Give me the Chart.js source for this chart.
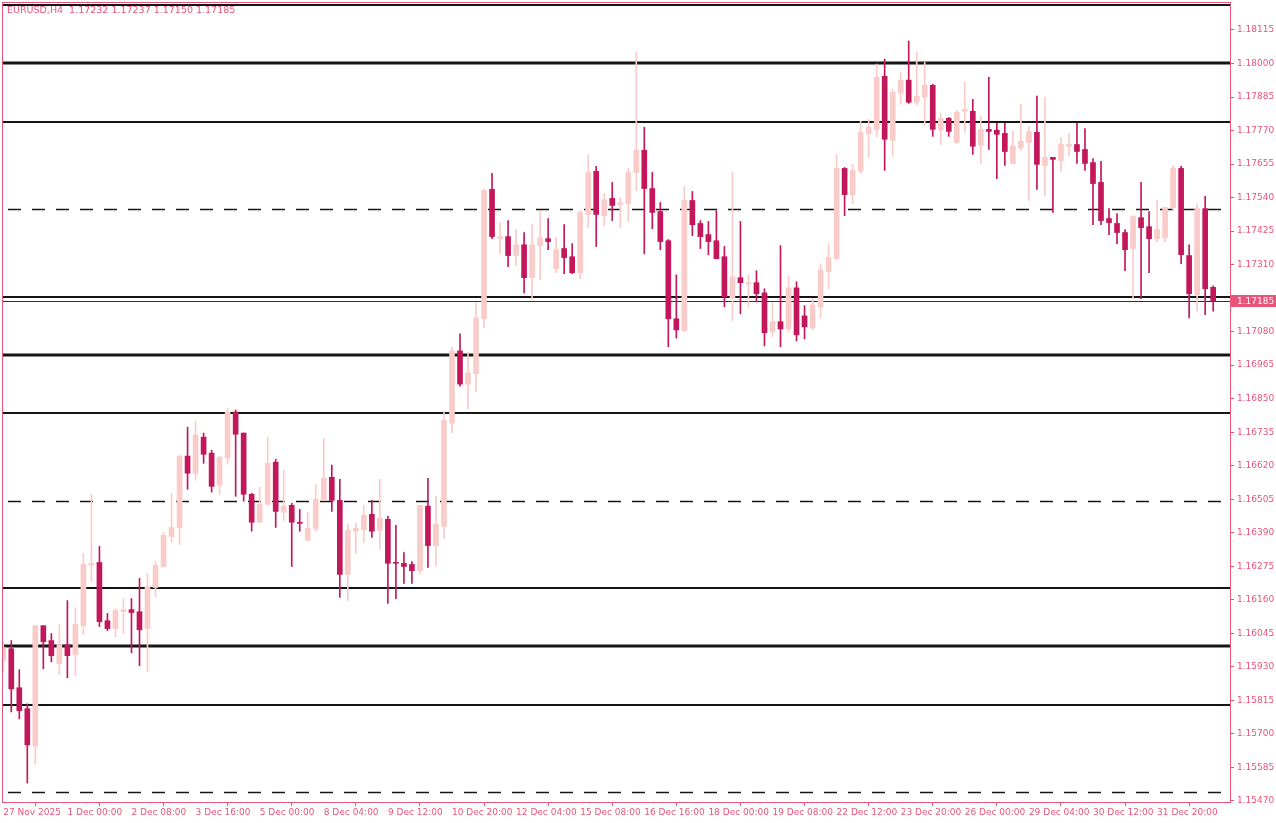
<!DOCTYPE html>
<html><head><meta charset="utf-8">
<script src="https://cdn.jsdelivr.net/npm/chart.js@4.4.1/dist/chart.umd.min.js"></script>
<style>html,body{margin:0;padding:0;background:#fff;}#wrap{width:1276px;height:823px;position:relative;}</style>
</head><body><div id="wrap"><canvas id="c" width="1276" height="823"></canvas></div>
<script>
const symbolTitle = "EURUSD,H4  1.17232 1.17237 1.17150 1.17185";
const opens = [1.15951,1.15992,1.15858,1.15786,1.15658,1.16071,1.16020,1.15941,1.16006,1.15971,1.16071,1.16278,1.16288,1.16088,1.16061,1.16119,1.16126,1.16119,1.16061,1.16202,1.16274,1.16377,1.16408,1.16653,1.16594,1.16718,1.16663,1.16553,1.16646,1.16804,1.16732,1.16522,1.16426,1.16487,1.16632,1.16460,1.16484,1.16426,1.16364,1.16405,1.16501,1.16580,1.16501,1.16247,1.16395,1.16401,1.16453,1.16398,1.16436,1.16288,1.16285,1.16281,1.16260,1.16481,1.16346,1.16412,1.16766,1.17014,1.16900,1.16935,1.17124,1.17568,1.17399,1.17406,1.17341,1.17378,1.17265,1.17375,1.17399,1.17296,1.17365,1.17337,1.17282,1.17482,1.17630,1.17478,1.17537,1.17516,1.17519,1.17626,1.17702,1.17571,1.17492,1.17392,1.17124,1.17083,1.17530,1.17451,1.17413,1.17392,1.17337,1.17196,1.17265,1.17244,1.17248,1.17213,1.17079,1.17114,1.17089,1.17230,1.17134,1.17093,1.17165,1.17286,1.17330,1.17640,1.17550,1.17630,1.17760,1.17774,1.17956,1.17736,1.17898,1.17943,1.17867,1.17884,1.17925,1.17771,1.17812,1.17729,1.17836,1.17836,1.17719,1.17774,1.17771,1.17760,1.17657,1.17712,1.17729,1.17764,1.17650,1.17678,1.17667,1.17716,1.17722,1.17705,1.17660,1.17592,1.17468,1.17451,1.17420,1.17365,1.17471,1.17440,1.17399,1.17402,1.17506,1.17640,1.17341,1.17206,1.17502,1.17232];
const highs = [1.16013,1.16020,1.15920,1.15803,1.16071,1.16071,1.16044,1.16075,1.16157,1.16133,1.16319,1.16522,1.16343,1.16113,1.16130,1.16164,1.16164,1.16233,1.16250,1.16291,1.16391,1.16525,1.16656,1.16752,1.16773,1.16732,1.16673,1.16653,1.16818,1.16811,1.16732,1.16525,1.16546,1.16718,1.16642,1.16604,1.16491,1.16470,1.16460,1.16556,1.16714,1.16622,1.16573,1.16419,1.16422,1.16484,1.16501,1.16573,1.16446,1.16415,1.16322,1.16291,1.16484,1.16577,1.16515,1.16807,1.17028,1.17072,1.17010,1.17179,1.17571,1.17623,1.17454,1.17461,1.17430,1.17420,1.17447,1.17495,1.17468,1.17402,1.17447,1.17382,1.17495,1.17688,1.17647,1.17554,1.17592,1.17540,1.17640,1.18039,1.17781,1.17626,1.17523,1.17396,1.17275,1.17578,1.17561,1.17461,1.17458,1.17495,1.17372,1.17626,1.17458,1.17275,1.17289,1.17227,1.17179,1.17375,1.17272,1.17251,1.17169,1.17193,1.17313,1.17382,1.17688,1.17643,1.17654,1.17802,1.17808,1.17998,1.18015,1.17912,1.17970,1.18077,1.18039,1.18005,1.17929,1.17829,1.17815,1.17839,1.17936,1.17877,1.17819,1.17953,1.17795,1.17795,1.17767,1.17860,1.17784,1.17888,1.17884,1.17678,1.17747,1.17760,1.17795,1.17777,1.17674,1.17664,1.17502,1.17485,1.17430,1.17478,1.17592,1.17492,1.17530,1.17506,1.17650,1.17647,1.17378,1.17519,1.17544,1.17237];
const lows = [1.15916,1.15775,1.15751,1.15531,1.15596,1.15923,1.15947,1.15903,1.15892,1.15899,1.16040,1.16223,1.16068,1.16054,1.16033,1.16044,1.15978,1.15934,1.15913,1.16171,1.16271,1.16357,1.16350,1.16539,1.16570,1.16628,1.16529,1.16522,1.16625,1.16515,1.16498,1.16395,1.16426,1.16484,1.16408,1.16432,1.16274,1.16395,1.16364,1.16395,1.16501,1.16463,1.16168,1.16157,1.16319,1.16357,1.16374,1.16333,1.16147,1.16164,1.16216,1.16216,1.16250,1.16271,1.16274,1.16370,1.16732,1.16893,1.16814,1.16873,1.17093,1.17399,1.17347,1.17303,1.17306,1.17213,1.17193,1.17258,1.17361,1.17282,1.17279,1.17279,1.17261,1.17437,1.17372,1.17444,1.17461,1.17437,1.17458,1.17564,1.17347,1.17433,1.17361,1.17028,1.17058,1.17079,1.17409,1.17365,1.17344,1.17330,1.17165,1.17117,1.17141,1.17165,1.17182,1.17031,1.17062,1.17028,1.17079,1.17048,1.17055,1.17086,1.17127,1.17227,1.17327,1.17478,1.17519,1.17623,1.17678,1.17747,1.17633,1.17681,1.17860,1.17863,1.17857,1.17788,1.17750,1.17722,1.17750,1.17726,1.17764,1.17688,1.17657,1.17705,1.17605,1.17650,1.17657,1.17702,1.17530,1.17568,1.17547,1.17489,1.17630,1.17685,1.17657,1.17633,1.17447,1.17447,1.17413,1.17382,1.17289,1.17193,1.17193,1.17282,1.17389,1.17389,1.17495,1.17313,1.17127,1.17151,1.17138,1.17150];
const closes = [1.15995,1.15854,1.15779,1.15662,1.16071,1.16016,1.15968,1.16006,1.15968,1.16075,1.16281,1.16285,1.16085,1.16061,1.16123,1.16126,1.16116,1.16057,1.16205,1.16278,1.16381,1.16408,1.16653,1.16594,1.16725,1.16659,1.16549,1.16649,1.16804,1.16728,1.16522,1.16426,1.16487,1.16628,1.16463,1.16481,1.16426,1.16422,1.16405,1.16505,1.16577,1.16501,1.16247,1.16398,1.16405,1.16450,1.16395,1.16439,1.16285,1.16285,1.16274,1.16260,1.16484,1.16346,1.16419,1.16776,1.17014,1.16900,1.16938,1.17127,1.17564,1.17406,1.17406,1.17341,1.17378,1.17265,1.17378,1.17402,1.17389,1.17361,1.17334,1.17282,1.17489,1.17626,1.17482,1.17533,1.17513,1.17523,1.17626,1.17702,1.17571,1.17489,1.17389,1.17124,1.17086,1.17530,1.17447,1.17406,1.17389,1.17330,1.17200,1.17268,1.17248,1.17248,1.17210,1.17076,1.17114,1.17089,1.17230,1.17069,1.17096,1.17172,1.17292,1.17334,1.17640,1.17550,1.17633,1.17764,1.17781,1.17953,1.17740,1.17901,1.17943,1.17867,1.17888,1.17925,1.17774,1.17812,1.17767,1.17833,1.17843,1.17716,1.17774,1.17767,1.17757,1.17698,1.17716,1.17733,1.17767,1.17654,1.17678,1.17671,1.17722,1.17722,1.17698,1.17657,1.17588,1.17461,1.17454,1.17420,1.17361,1.17475,1.17437,1.17399,1.17430,1.17506,1.17640,1.17344,1.17210,1.17502,1.17227,1.17185];
const timeLabels = ["27 Nov 2025","1 Dec 00:00","2 Dec 08:00","3 Dec 16:00","5 Dec 00:00","8 Dec 04:00","9 Dec 12:00","10 Dec 20:00","12 Dec 04:00","15 Dec 08:00","16 Dec 16:00","18 Dec 00:00","19 Dec 08:00","22 Dec 12:00","23 Dec 20:00","26 Dec 00:00","29 Dec 04:00","30 Dec 12:00","31 Dec 20:00"];
const labelEvery = 8;
const priceTickStart = 1.15470, priceTickStep = 0.00115, priceTickCount = 24;
const solidLevels = [1.1820,1.1800,1.1780,1.1720,1.1700,1.1680,1.1620,1.1600,1.1580];
const heavyLevels = [1.1800,1.1700,1.1600];
const dashedLevels = [1.1750,1.1650,1.1550];
const lastPrice = 1.17185;

const PINK = '#e8557a', DARK = '#c2185b', LIGHT = '#f9cbc9';
const idx = opens.map((_, i) => i);
const up = idx.map(i => closes[i] >= opens[i]);
const wickData = idx.map(i => ({x: i, y: [lows[i], highs[i]]}));
const bodyData = idx.map(i => ({x: i, y: [opens[i], closes[i]]}));
const colors = up.map(u => u ? LIGHT : DARK);

const FONT = {family: 'DejaVu Sans', size: 9};

const levelsPlugin = {
  id: 'levels',
  beforeDatasetsDraw(chart) {
    const {ctx, chartArea: a, scales: {y}} = chart;
    ctx.save();
    ctx.beginPath(); ctx.rect(a.left, a.top, a.right - a.left, a.bottom - a.top); ctx.clip();
    ctx.strokeStyle = '#151515';
    solidLevels.forEach(v => {
      const py = Math.round(y.getPixelForValue(v));
      ctx.lineWidth = heavyLevels.includes(v) ? 3 : 2;
      ctx.setLineDash([]);
      ctx.beginPath(); ctx.moveTo(a.left, py); ctx.lineTo(a.right, py); ctx.stroke();
    });
    ctx.lineWidth = 1.3; ctx.setLineDash([13, 11]);
    dashedLevels.forEach(v => {
      const py = Math.round(y.getPixelForValue(v)) + 0.5;
      ctx.beginPath(); ctx.moveTo(a.left + 6, py); ctx.lineTo(a.right, py); ctx.stroke();
    });
    ctx.setLineDash([]); ctx.lineWidth = 1; ctx.strokeStyle = '#3a2e28';
    const pl = Math.round(y.getPixelForValue(lastPrice)) + 0.5;
    ctx.beginPath(); ctx.moveTo(a.left, pl); ctx.lineTo(a.right, pl); ctx.stroke();
    ctx.restore();
  },
  afterDraw(chart) {
    const {ctx, chartArea: a, scales: {y}} = chart;
    ctx.save();
    ctx.strokeStyle = PINK; ctx.lineWidth = 1;
    ctx.strokeRect(a.left + 0.5, a.top + 0.5, a.right - a.left, a.bottom - a.top);
    ctx.fillStyle = PINK; ctx.font = '9.5px "DejaVu Sans"'; ctx.textBaseline = 'middle';
    ctx.fillText(symbolTitle, a.left + 5, a.top + 9);
    const py = y.getPixelForValue(lastPrice);
    ctx.fillRect(a.right + 1, py - 6, 46, 12);
    ctx.fillStyle = '#fff';
    ctx.font = '9px "DejaVu Sans"';
    ctx.fillText(lastPrice.toFixed(5), a.right + 7, py + 0.5);
    ctx.restore();
  }
};

new Chart(document.getElementById('c'), {
  type: 'bar',
  data: {
    datasets: [
      {data: wickData, backgroundColor: colors, barThickness: 1, grouped: false, order: 2},
      {data: bodyData, backgroundColor: colors, barThickness: 5, grouped: false, minBarLength: 1, order: 1}
    ]
  },
  options: {
    responsive: false, animation: false,
    layout: {padding: {left: 2, top: 2, right: 0, bottom: 0}},
    plugins: {legend: {display: false}, tooltip: {enabled: false}},
    scales: {
      x: {
        type: 'linear', min: -0.16, max: 153.1, offset: false,
        afterBuildTicks: s => { s.ticks = timeLabels.map((_, k) => ({value: k * labelEvery})); },
        afterFit: s => { s.height = 21; s.paddingLeft = 0; s.paddingRight = 0; },
        ticks: {autoSkip: false, maxRotation: 0, align: 'start', color: PINK, font: FONT, padding: 1,
          callback: (v) => timeLabels[Math.round(v / labelEvery)] || ''},
        grid: {display: true, drawOnChartArea: false, color: PINK, tickLength: 4},
        border: {display: false}
      },
      y: {
        position: 'right', min: 1.15466, max: 1.18211,
        afterBuildTicks: s => { s.ticks = Array.from({length: priceTickCount}, (_, k) => ({value: priceTickStart + k * priceTickStep})); },
        afterFit: s => { s.width = 46; s.paddingTop = 0; s.paddingBottom = 0; },
        ticks: {autoSkip: false, color: PINK, font: FONT, padding: 3,
          callback: v => Math.abs(v - lastPrice) < 0.0003 ? '' : v.toFixed(5)},
        grid: {display: true, drawOnChartArea: false, color: PINK, tickLength: 4},
        border: {display: false}
      }
    }
  },
  plugins: [levelsPlugin]
});
</script></body></html>
